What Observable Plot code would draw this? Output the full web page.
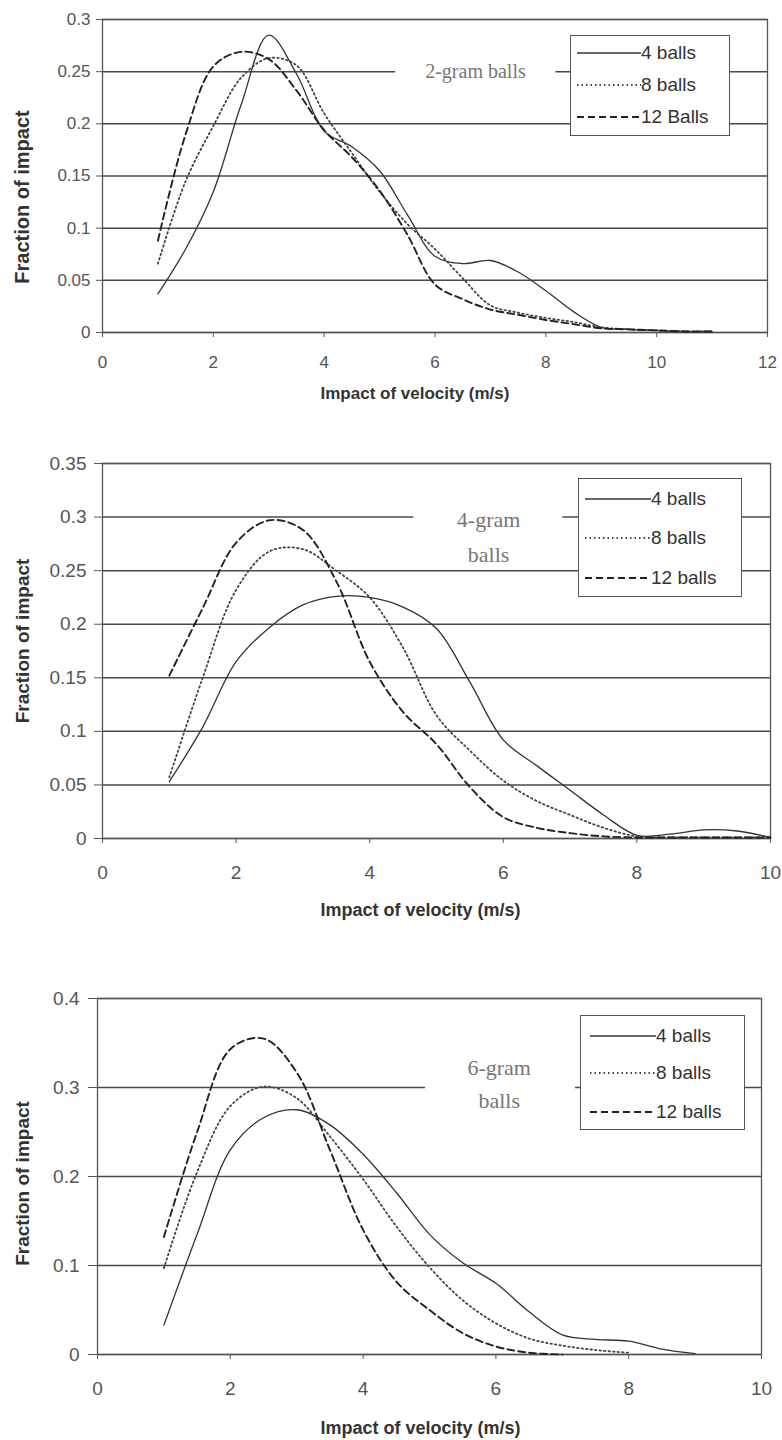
<!DOCTYPE html>
<html><head><meta charset="utf-8">
<script src="https://cdn.jsdelivr.net/npm/d3@7"></script>
<script src="https://cdn.jsdelivr.net/npm/@observablehq/plot@0.6"></script>
<style>
html,body{margin:0;padding:0;background:#fff;}
#root{position:relative;width:782px;height:1440px;overflow:hidden;font-family:"Liberation Sans",Arial,sans-serif;}
.panel{position:absolute;left:0;}
.legend{position:absolute;background:#fff;border:1.5px solid #555;box-sizing:border-box;}
.legend .row{position:absolute;left:0;height:24px;margin-top:-12px;display:flex;align-items:center;}
.legend svg{display:block;}
.legend span{font-size:19px;color:#333;white-space:nowrap;line-height:24px;}
</style></head><body><div id="root"></div>
<script>
// ---------- data ----------
const seriesNames = ["4 balls", "8 balls", "12 balls"];
const legendLabels1 = ["4 balls", "8 balls", "12 Balls"];
const legendLabels = ["4 balls", "8 balls", "12 balls"];

// panel 1: 2-gram balls
const vel1 = [1,1.5,2,2.5,3,3.5,4,4.5,5,5.5,6,6.5,7,7.5,8,8.5,9,9.5,10,10.5,11];
const p1Balls4  = [0.037,0.08,0.135,0.218,0.285,0.248,0.193,0.178,0.155,0.113,0.073,0.066,0.069,0.058,0.04,0.02,0.005,0.003,0.002,0.001,0.001];
const p1Balls8  = [0.066,0.145,0.198,0.244,0.263,0.256,0.21,0.172,0.135,0.104,0.08,0.052,0.026,0.019,0.014,0.01,0.005,0.003,0.002,0.001,0.001];
const p1Balls12 = [0.088,0.19,0.255,0.269,0.262,0.232,0.194,0.168,0.136,0.094,0.046,0.032,0.022,0.017,0.012,0.008,0.004,0.003,0.002,0.001,0.001];
const xTicks1 = [0,2,4,6,8,10,12];
const yTicks1 = [0,0.05,0.1,0.15,0.2,0.25,0.3];

// panel 2: 4-gram balls
const vel2 = [1,1.5,2,2.5,3,3.5,4,4.5,5,5.5,6,6.5,7,7.5,8,8.5,9,9.5,10];
const p2Balls4  = [0.053,0.104,0.165,0.197,0.218,0.226,0.225,0.216,0.196,0.146,0.092,0.068,0.045,0.022,0.003,0.004,0.008,0.007,0.001];
const p2Balls8  = [0.057,0.15,0.232,0.268,0.27,0.25,0.225,0.178,0.115,0.082,0.054,0.035,0.022,0.01,0.002,0.001,0.001,0.001,0.001];
const p2Balls12 = [0.152,0.215,0.276,0.297,0.288,0.24,0.165,0.118,0.088,0.048,0.02,0.01,0.005,0.002,0.001,0.001,0.001,0.001,0.001];
const xTicks2 = [0,2,4,6,8,10];
const yTicks2 = [0,0.05,0.1,0.15,0.2,0.25,0.3,0.35];

// panel 3: 6-gram balls
const vel3 = [1,1.5,2,2.5,3,3.5,4,4.5,5,5.5,6,6.5,7,7.5,8,8.5,9];
const p3Balls4  = [0.033,0.135,0.23,0.266,0.275,0.258,0.225,0.182,0.135,0.103,0.08,0.048,0.022,0.017,0.015,0.006,0.001];
const p3Balls8  = [0.097,0.205,0.279,0.301,0.288,0.245,0.197,0.144,0.098,0.061,0.035,0.018,0.01,0.005,0.002,null,null];
const p3Balls12 = [0.132,0.25,0.343,0.355,0.317,0.23,0.14,0.082,0.05,0.024,0.009,0.002,0,null,null,null,null];
const xTicks3 = [0,2,4,6,8,10];
const yTicks3 = [0,0.1,0.2,0.3,0.4];

const xTitle = "Impact of velocity (m/s)";
const yTitle = "Fraction of impact";
const annotations = ["2-gram balls", "4-gram\nballs", "6-gram\nballs"];

// ---------- styles ----------
const lineStyles = [
  {dash: null, width: 1.3, color: "#333"},
  {dash: "1.5,3", width: 1.8, color: "#444"},
  {dash: "7,4", width: 1.9, color: "#222"}
];

function tidy(vel, cols) {
  const rows = [];
  cols.forEach((col, si) => col.forEach((f, i) => {
    if (f != null) rows.push({v: vel[i], f, s: seriesNames[si]});
  }));
  return rows;
}

const root = document.getElementById("root");

function panel(cfg) {
  const data = tidy(cfg.vel, cfg.cols);
  const fontTick = cfg.tickFont;
  const marks = [
    Plot.ruleY(cfg.yTicks, {stroke: "#4a4a4a", strokeWidth: 1.5}),
    Plot.ruleY([cfg.ann], {y: "gy", x1: "gx1", x2: "gx2", stroke: "white", strokeWidth: 6}),
    Plot.frame({stroke: "#555", strokeWidth: 1.3}),
    Plot.axisX({ticks: cfg.xTicks, tickSize: 5, tickPadding: cfg.xPad, fontSize: fontTick, label: null, tickFormat: d => String(d), fill: "#555", stroke: "#555"}),
    Plot.axisY({ticks: cfg.yTicks, tickSize: cfg.yTick, tickPadding: cfg.yPad, fontSize: fontTick, label: null, tickFormat: d => String(d), fill: "#555", stroke: "#555"}),
    ...seriesNames.map((name, i) => Plot.line(data.filter(d => d.s === name), {
      x: "v", y: "f", curve: "catmull-rom",
      stroke: lineStyles[i].color, strokeWidth: lineStyles[i].width,
      strokeDasharray: lineStyles[i].dash || undefined
    })),
    Plot.text([cfg.ann], {x: "x", y: "y", text: "label", fontFamily: "Liberation Serif, Times New Roman, serif",
      fontSize: cfg.annFont, fill: "#777", lineHeight: cfg.annLine, lineAnchor: "middle", textAnchor: "middle"}),
    Plot.text([xTitle], {frameAnchor: "bottom-left", textAnchor: "start", lineAnchor: "middle",
      dx: 320 - cfg.ml, dy: cfg.xTitleDy, fontWeight: "bold", fontSize: cfg.titleFont, fill: "#333"}),
    Plot.text([yTitle], {frameAnchor: "left", textAnchor: "middle", lineAnchor: "middle", rotate: -90,
      dx: 22 - cfg.ml, dy: cfg.yTitleDy, fontWeight: "bold", fontSize: cfg.yTitleFont, fill: "#333"})
  ];
  const svg = Plot.plot({
    width: 782, height: cfg.height,
    marginTop: cfg.mt, marginBottom: cfg.mb, marginLeft: cfg.ml, marginRight: cfg.mr,
    x: {domain: [0, cfg.xTicks[cfg.xTicks.length - 1]]},
    y: {domain: [0, cfg.yTicks[cfg.yTicks.length - 1]]},
    style: {fontFamily: "'Liberation Sans', Arial, sans-serif", background: "transparent", overflow: "visible"},
    marks
  });
  const wrap = document.createElement("div");
  wrap.className = "panel";
  wrap.style.top = cfg.top + "px";
  wrap.appendChild(svg);
  root.appendChild(wrap);

  // legend box
  const lg = document.createElement("div");
  lg.className = "legend";
  Object.assign(lg.style, {left: cfg.leg.left + "px", top: cfg.leg.top + "px", width: cfg.leg.w + "px", height: cfg.leg.h + "px"});
  cfg.legendLabels.forEach((lab, i) => {
    const row = document.createElement("div");
    row.className = "row";
    row.style.top = cfg.leg.rows[i] + "px";
    row.style.left = cfg.leg.sx + "px";
    const st = lineStyles[i];
    const sw = cfg.leg.sw;
    row.innerHTML = `<svg width="${sw}" height="10"><line x1="0" x2="${sw}" y1="5" y2="5" stroke="${st.color}" stroke-width="${st.width}" ${st.dash ? `stroke-dasharray="${st.dash}"` : ""}/></svg><span>${lab}</span>`;
    lg.appendChild(row);
  });
  root.appendChild(lg);
}

panel({
  top: 0, height: 420, mt: 19, mb: 88, ml: 102, mr: 15,
  vel: vel1, cols: [p1Balls4, p1Balls8, p1Balls12], xTicks: xTicks1, yTicks: yTicks1,
  tickFont: 17, xPad: 18, yTick: 6, yPad: 6, titleFont: 17, xTitleDy: 61, yTitleFont: 20, yTitleDy: 21,
  ann: {label: annotations[0], x: 6.73, y: 0.25, gy: 0.25, gx1: 5.29, gx2: 8.18}, annFont: 20, annLine: 1,
  legendLabels: legendLabels1,
  leg: {left: 570, top: 35, w: 160, h: 101, rows: [17, 49, 81], sx: 6, sw: 64}
});
panel({
  top: 440, height: 500, mt: 23, mb: 102, ml: 102, mr: 12,
  vel: vel2, cols: [p2Balls4, p2Balls8, p2Balls12], xTicks: xTicks2, yTicks: yTicks2,
  tickFont: 19, xPad: 22, yTick: 8, yPad: 8, titleFont: 18, xTitleDy: 72, yTitleFont: 19, yTitleDy: -10,
  ann: {label: annotations[1], x: 5.78, y: 0.285, gy: 0.3, gx1: 4.66, gx2: 6.89}, annFont: 22, annLine: 1.6,
  legendLabels: legendLabels,
  leg: {left: 578, top: 478, w: 164, h: 119, rows: [20, 59, 99], sx: 6, sw: 66}
});
panel({
  top: 960, height: 480, mt: 38, mb: 86, ml: 97, mr: 21,
  vel: vel3, cols: [p3Balls4, p3Balls8, p3Balls12], xTicks: xTicks3, yTicks: yTicks3,
  tickFont: 19, xPad: 22, yTick: 9, yPad: 9, titleFont: 18, xTitleDy: 74, yTitleFont: 19, yTitleDy: 7,
  ann: {label: annotations[2], x: 6.05, y: 0.307, gy: 0.3, gx1: 4.94, gx2: 7.2}, annFont: 22, annLine: 1.5,
  legendLabels: legendLabels,
  leg: {left: 580, top: 1015, w: 165, h: 115, rows: [20, 57, 96], sx: 9, sw: 66}
});
</script></body></html>
